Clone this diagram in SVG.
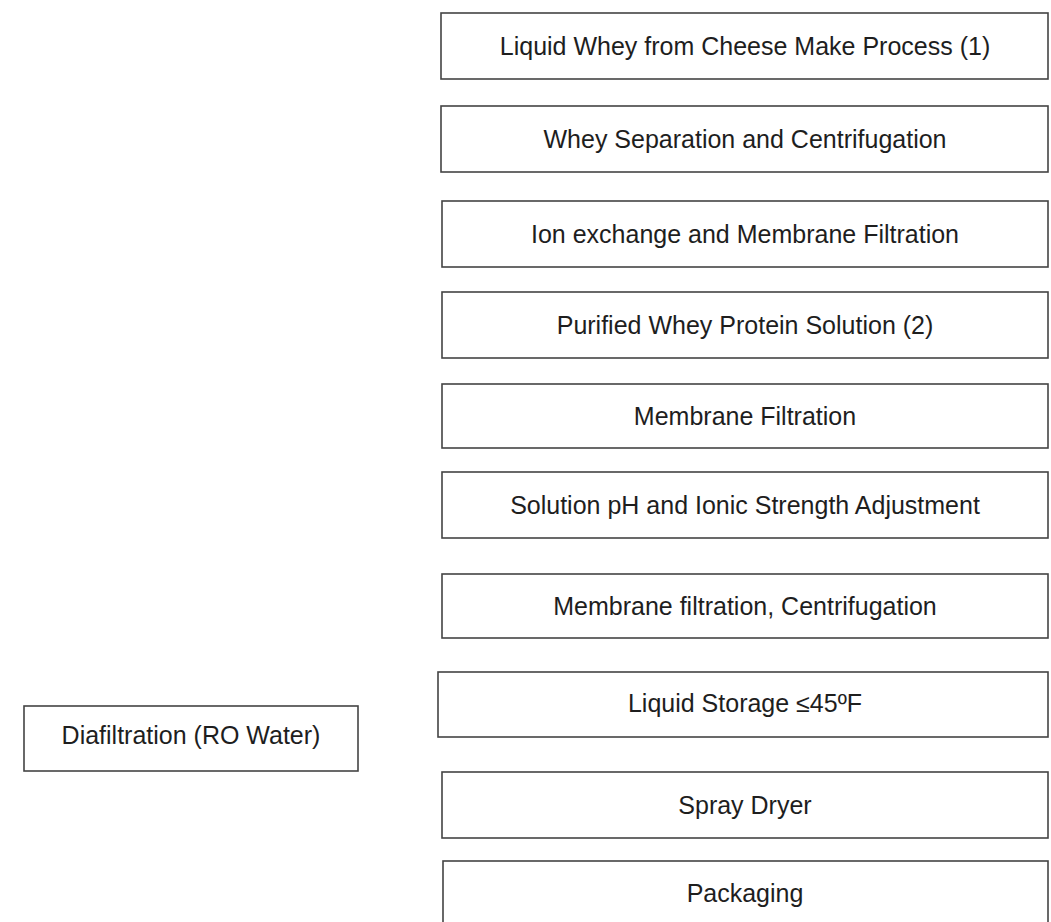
<svg xmlns="http://www.w3.org/2000/svg" width="1051" height="922" viewBox="0 0 1051 922">
<style>
rect.b{fill:#fff;stroke:#444;stroke-width:1.6}
text{font-family:"Liberation Sans",Arial,sans-serif;font-size:25px;fill:#1e1e1e;text-anchor:middle}
</style>
<rect width="1051" height="922" fill="#fff"/>
<g id="connectors"></g>
<g id="n1"><rect class="b" x="441" y="13" width="607" height="66"/><text x="745" y="55">Liquid Whey from Cheese Make Process (1)</text></g>
<g id="n2"><rect class="b" x="441" y="106" width="607" height="66"/><text x="745" y="148">Whey Separation and Centrifugation</text></g>
<g id="n3"><rect class="b" x="442" y="201" width="606" height="66"/><text x="745" y="243">Ion exchange and Membrane Filtration</text></g>
<g id="n4"><rect class="b" x="442" y="292" width="606" height="66"/><text x="745" y="334">Purified Whey Protein Solution (2)</text></g>
<g id="n5"><rect class="b" x="442" y="384" width="606" height="64"/><text x="745" y="425">Membrane Filtration</text></g>
<g id="n6"><rect class="b" x="442" y="472" width="606" height="66"/><text x="745" y="514">Solution pH and Ionic Strength Adjustment</text></g>
<g id="n7"><rect class="b" x="442" y="574" width="606" height="64"/><text x="745" y="615">Membrane filtration, Centrifugation</text></g>
<g id="n8"><rect class="b" x="438" y="672" width="610" height="65"/><text x="745" y="712">Liquid Storage ≤45ºF</text></g>
<g id="n9"><rect class="b" x="442" y="772" width="606" height="66"/><text x="745" y="814">Spray Dryer</text></g>
<g id="n10"><rect class="b" x="443" y="861" width="605" height="64"/><text x="745" y="902">Packaging</text></g>
<g id="n11"><rect class="b" x="24" y="706" width="334" height="65"/><text x="191" y="744">Diafiltration (RO Water)</text></g>
</svg>
